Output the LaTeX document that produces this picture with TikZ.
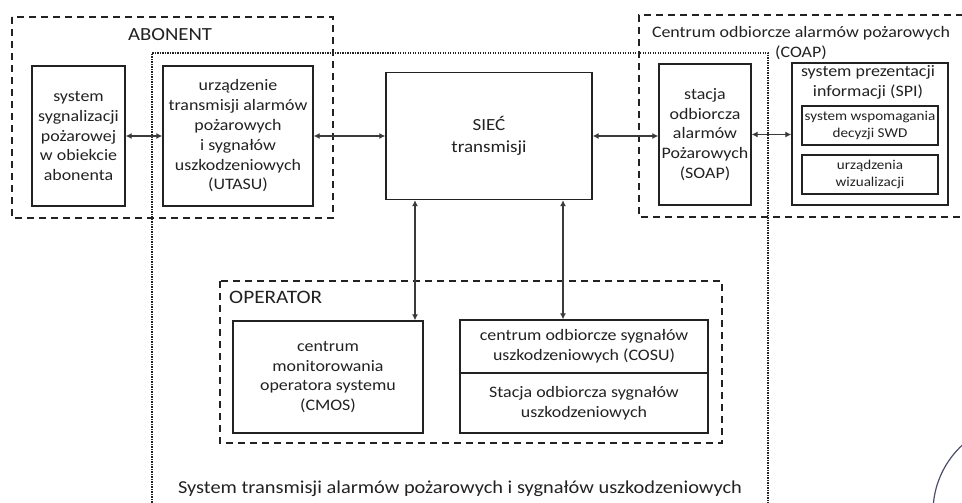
\documentclass[tikz,border=0pt]{standalone}
\usepackage{fontspec}
\setmainfont{Carlito}[FakeStretch=1.12]
\usetikzlibrary{arrows.meta}
\definecolor{ink}{HTML}{222222}
\definecolor{wire}{HTML}{3A3A3A}
\definecolor{stampink}{HTML}{4A4E6A}
\tikzset{
	box/.style={draw=ink,line width=1.3pt,align=center,inner sep=0pt,text=ink,font=\fontsize{16}{19.8}\selectfont},
	subbox/.style={box,line width=1.2pt,font=\fontsize{13.5}{17}\selectfont},
	group/.style={draw=ink,line width=1.4pt,dash pattern=on 7pt off 5pt},
	system/.style={draw=ink,line width=1.3pt,dash pattern=on 1.3pt off 1.2pt},
	grouplabel/.style={inner sep=0pt,text=ink,font=\fontsize{18.5}{21}\selectfont},
	caption/.style={inner sep=0pt,text=ink,align=center,font=\fontsize{16}{20}\selectfont},
	link/.style={draw=wire,line width=1.8pt,{Latex[length=6pt,width=6pt]}-{Latex[length=6pt,width=6pt]}},
}
\begin{document}
\begin{tikzpicture}[x=1pt,y=-1pt]
	\useasboundingbox (0,0) rectangle (962,503);
	\fill[white] (0,0) rectangle (962,503);
	% obszary: abonent, COAP, operator i caly system
	\draw[group] (12,17) rectangle (333,218);
	\draw[group] (975,15) -- (639,15) -- (639,217) -- (975,217);
	\draw[group] (220,281) rectangle (722,443);
	\draw[system] (152,515) -- (152,53) -- (768,53) -- (768,515);
	\node[grouplabel] (abonent) at (170,35) {ABONENT};
	\node[grouplabel,anchor=west,font=\fontsize{19}{21}\selectfont] (operator) at (229,297) {OPERATOR};
	\node[caption] (coap) at (801,43) {Centrum odbiorcze alarmów pożarowych\\(COAP)};
	\node[caption,font=\fontsize{18.2}{21}\selectfont] (sta) at (460,489) {System transmisji alarmów pożarowych i sygnałów uszkodzeniowych};
	% bloki
	\node[box,minimum width=93,minimum height=140] (sys) at (78.5,136) {system\\sygnalizacji\\pożarowej\\w obiekcie\\abonenta};
	\node[box,minimum width=150,minimum height=140] (utasu) at (238,136) {urządzenie\\transmisji alarmów\\pożarowych\\i sygnałów\\uszkodzeniowych\\(UTASU)};
	\node[box,minimum width=206,minimum height=127,font=\fontsize{17}{22}\selectfont] (siec) at (489,136) {SIEĆ\\transmisji};
	\node[box,minimum width=92,minimum height=141] (soap) at (705,134.5) {stacja\\odbiorcza\\alarmów\\Pożarowych\\(SOAP)};
	\node[box,minimum width=156,minimum height=142] (spi) at (870,134) {};
	\node[caption] (spitxt) at (868,82.5) {system prezentacji\\informacji (SPI)};
	\node[subbox,minimum width=136,minimum height=39] (swd) at (870,125.5) {system wspomagania\\decyzji SWD};
	\node[subbox,minimum width=136,minimum height=39] (wiz) at (870,174.5) {urządzenia\\wizualizacji};
	\node[box,minimum width=190,minimum height=112] (cmos) at (328,377) {centrum\\monitorowania\\operatora systemu\\(CMOS)};
	\node[box,minimum width=248,minimum height=53] (cosu) at (584,346.5) {centrum odbiorcze sygnałów\\uszkodzeniowych (COSU)};
	\node[box,minimum width=248,minimum height=60] (sosu) at (584,403) {Stacja odbiorcza sygnałów\\uszkodzeniowych};
	% polaczenia
	\foreach \a/\b in {sys/utasu,utasu/siec,siec/soap,soap/spi}
		\draw[link] (\a.east) -- (\a.east -| \b.west);
	\draw[link] (siec.south -| 415,0) -- (cmos.north -| 415,0);
	\draw[link] (siec.south -| 563,0) -- (cosu.north -| 563,0);
	% pieczatka
	\draw[stampink,line width=1.2pt] (1024,512) circle (91);
\end{tikzpicture}
\end{document}
